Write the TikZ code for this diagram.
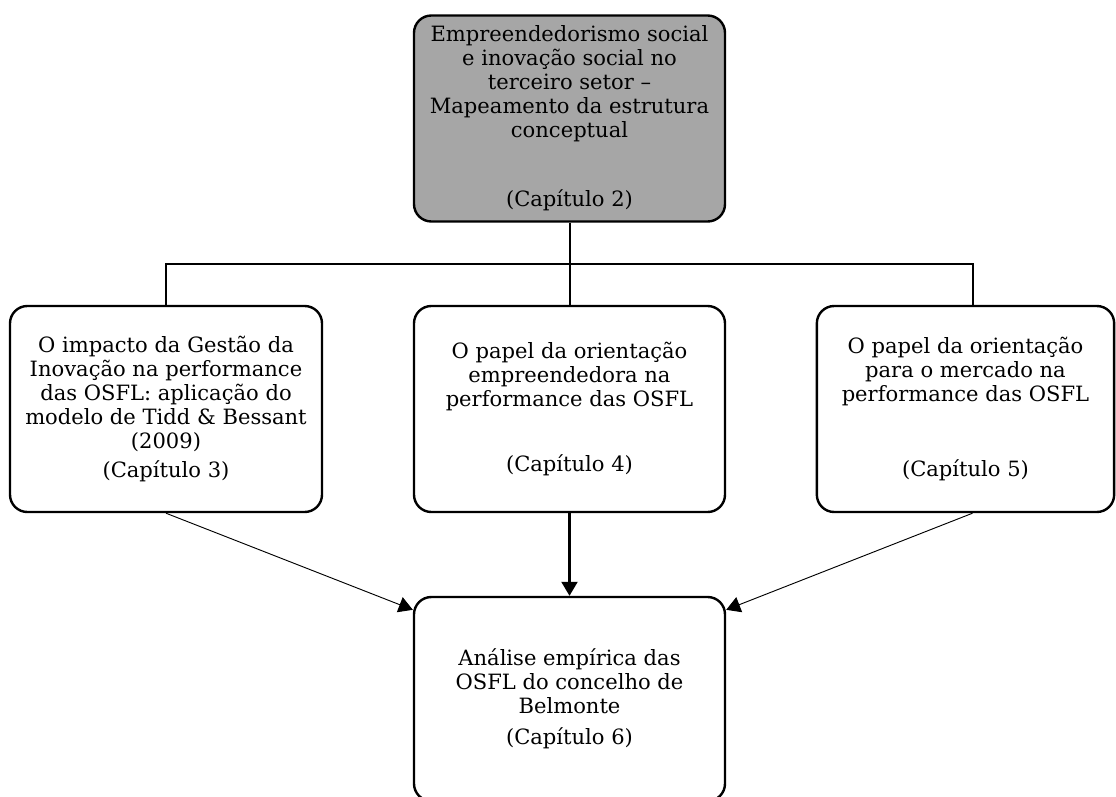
\documentclass[tikz,border=0pt]{standalone}
\usepackage{fontspec}
\setmainfont{DejaVu Serif}
\usetikzlibrary{arrows.meta,calc}
\definecolor{capgray}{RGB}{166,166,166}
\tikzset{
    capbox/.style={
        draw,
        rounded corners=13pt,
        line width=1.8pt,
        inner sep=0pt,
        align=center,
        minimum height=154.5pt,
        font=\fontsize{15.8}{18}\selectfont
    },
    % linhas da árvore e setas
    tree/.style={line width=1.5pt},
    mainarrow/.style={
        line width=1.6pt,
        -{Triangle[length=10.5pt, width=12pt]}
    },
    sidearrow/.style={
        line width=0.7pt,
        -{Triangle[length=10.5pt, width=12pt]}
    }
}
\begin{document}
\begin{tikzpicture}[x=0.75pt,y=-0.75pt]
    \useasboundingbox (0,0) rectangle (1116,796);
    \node[capbox, fill=capgray, minimum width=233.25pt] (capTwo) at (569.5,118.5)
        {Empreendedorismo social\\ e inovação social no\\ terceiro setor –\\ Mapeamento da estrutura\\ conceptual\\[34pt] (Capítulo 2)};
    \node[capbox, minimum width=234pt] (capThree) at (166,409)
        {O impacto da Gestão da\\ Inovação na performance\\ das OSFL: aplicação do\\ modelo de Tidd \& Bessant\\ (2009)\\[4pt] (Capítulo 3)};
    \node[capbox, minimum width=233.25pt] (capFour) at (569.5,409)
        {O papel da orientação\\ empreendedora na\\ performance das OSFL\\[31pt] (Capítulo 4)};
    \node[capbox, minimum width=223pt] (capFive) at (965.5,409)
        {O papel da orientação\\ para o mercado na\\ performance das OSFL\\[38pt] (Capítulo 5)};
    \node[capbox, minimum width=233.25pt, minimum height=153pt] (capSix) at (569.5,699)
        {Análise empírica das\\ OSFL do concelho de\\ Belmonte\\[5pt] (Capítulo 6)};
    \coordinate (split) at ($(capTwo.south)!0.5!(capFour.north)$);
    \draw[tree] (capTwo.south) -- (capFour.north);
    \draw[tree] (capThree.north) |- (split) -| ($(capFive.north)+(7,0)$);
    \draw[mainarrow] (capFour.south) -- (capSix.north);
    \draw[sidearrow] (capThree.south) -- ($(capSix.north west)+(0,14)$);
    \draw[sidearrow] ($(capFive.south)+(7,0)$) -- ($(capSix.north east)+(0,14)$);
\end{tikzpicture}
\end{document}
